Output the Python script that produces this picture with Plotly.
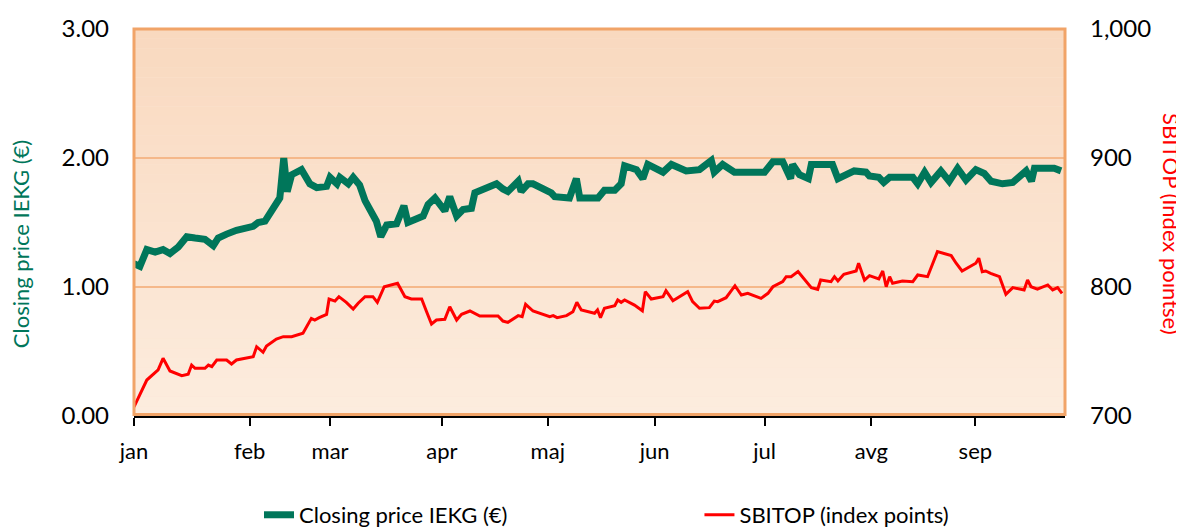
import plotly.graph_objects as go

# Trading-session index (0 = first session of January) and values
month_labels = ["jan", "feb", "mar", "apr", "maj", "jun", "jul", "avg", "sep"]
month_start_session = [0, 23.5, 39.8, 62.5, 84, 105.7, 128, 149.7, 170.8]

price_session = [0, 1.2, 2.6, 4.3, 5.9, 7.3, 9.0, 10.7, 12.4, 14.4, 16.1, 17.1, 18.8, 20.8,
                 24.2, 25.2, 26.6, 28.6, 29.6, 30.4, 31.1, 32.0, 34.0, 35.7, 37.1,
                 39.1, 39.8, 41.2, 41.8, 43.5, 44.5, 45.8, 46.9, 49.2, 50.1, 51.3, 53.3,
                 54.8, 55.6, 58.7, 59.7, 61.1, 63.1, 64.1, 65.5, 66.8, 68.5, 69.2, 73.6,
                 74.9, 75.9, 78.0, 78.6, 80.0, 81.0, 84.7, 85.4, 88.4, 89.8, 90.5, 94.2,
                 95.5, 97.6, 98.9, 99.6, 102.0, 103.3, 104.3, 107.4, 109.1, 112.1,
                 114.8, 117.2, 117.8, 119.5, 121.9, 128.0, 129.7, 131.7, 133.3, 133.7,
                 135.1, 136.9, 137.5, 141.8, 142.9, 146.2, 148.6, 149.3, 151.2, 152.2,
                 153.4, 158.1, 159.1, 160.5, 161.8, 163.8, 165.5, 167.2, 168.9, 170.9,
                 172.6, 174.0, 176.3, 178.4, 181.1, 182.2, 182.8, 186.8, 188.2]
price_eur = [1.18, 1.16, 1.29, 1.27, 1.29, 1.26, 1.31, 1.39, 1.38, 1.37, 1.32, 1.38, 1.41, 1.44,
             1.47, 1.50, 1.51, 1.62, 1.69, 2.00, 1.74, 1.87, 1.91, 1.80, 1.77,
             1.78, 1.85, 1.80, 1.85, 1.80, 1.85, 1.79, 1.67, 1.51, 1.39, 1.48, 1.49,
             1.63, 1.50, 1.55, 1.64, 1.69, 1.59, 1.70, 1.55, 1.60, 1.61, 1.73, 1.80,
             1.76, 1.74, 1.82, 1.74, 1.80, 1.80, 1.73, 1.70, 1.69, 1.84, 1.69, 1.69,
             1.75, 1.75, 1.80, 1.94, 1.91, 1.84, 1.95, 1.89, 1.95, 1.90,
             1.91, 1.98, 1.89, 1.95, 1.89, 1.89, 1.97, 1.97, 1.84, 1.95,
             1.87, 1.84, 1.95, 1.95, 1.84, 1.90, 1.89, 1.86, 1.85, 1.81,
             1.85, 1.85, 1.80, 1.89, 1.81, 1.90, 1.82, 1.92, 1.83, 1.91,
             1.88, 1.82, 1.80, 1.81, 1.90, 1.82, 1.92, 1.92, 1.90]

sbitop_session = [0, 2.6, 4.9, 5.9, 7.3, 9.7, 11.0, 11.7, 12.4, 14.4, 15.1, 15.8, 16.8, 18.8,
                  19.8, 20.8, 24.2, 24.9, 26.2, 26.9, 28.9, 30.3, 32.0, 34.3, 36.0, 36.7, 37.6,
                  39.1, 39.6, 40.8, 41.6, 43.1, 44.5, 45.5, 46.9, 48.5, 49.4, 50.8, 53.5, 55.0,
                  56.3, 58.4, 59.4, 60.4, 61.4, 63.1, 64.1, 65.5, 66.5, 68.2, 70.2, 73.9, 74.9,
                  75.9, 78.0, 78.8, 79.5, 81.0, 84.4, 85.1, 85.9, 87.8, 89.1, 89.9, 90.8, 93.5,
                  94.1, 94.7, 95.5, 97.6, 98.2, 98.9, 99.6, 101.6, 103.2, 103.8, 105.0, 107.4,
                  108.0, 109.4, 112.4, 113.4, 114.8, 116.8, 117.8, 118.5, 120.2, 122.0, 123.3,
                  124.6, 127.3, 128.7, 129.7, 131.7, 132.4, 133.4, 134.8, 137.5, 138.8, 139.4,
                  141.5, 142.2, 142.9, 144.1, 146.6, 147.1, 148.3, 149.3, 151.2, 152.0, 152.7,
                  153.4, 154.0, 156.0, 158.1, 159.1, 161.1, 162.1, 163.1, 165.9, 166.9, 168.1,
                  169.6, 170.9, 171.5, 172.2, 172.9, 173.9, 175.7, 177.0, 178.4, 180.7, 181.4,
                  182.1, 183.4, 185.5, 186.5, 187.5, 188.4]
sbitop_points = [707, 727.9, 735.7, 744.7, 734.9, 731.2, 732.3, 739.5, 737, 737, 739.5, 738.2,
                 743.4, 743.4, 740.3, 743.4, 746, 753.7, 749.4, 754.3, 759.7, 761.5, 761.5,
                 764.1, 775.7, 774.4, 776.2,
                 778.8, 790.7, 789.1, 792.5, 788.1, 782.9, 787.4, 792.5, 792.5, 788.1, 800.2,
                 802.9, 792.5, 790.7, 790.7, 780.8, 771.3, 774.4, 775, 784.7, 774.4, 778.8,
                 781.4, 777.5, 777.5, 773.6, 772.6, 777.8, 777, 786.6, 781.4, 777, 777.8,
                 776.2, 777.8, 780.8, 788.1, 782.2, 779.6, 782.2, 776.2, 783.5, 785.5, 789.9,
                 788.1, 789.9, 786, 781.6, 796.4, 790.7, 792.5, 797.1, 789.4, 796.4,
                 788.6, 783.5, 784, 789.1, 788.6, 791.7, 801, 793.8, 795.1, 791.2, 795.1,
                 800.2, 804.1, 808, 808, 811.9, 799.5, 798.2, 805.4, 804.1, 808, 804.7,
                 809.8, 812.4, 818.4, 805.4, 808.8, 806.2, 812.4, 800.2, 808, 802.9, 804.7,
                 804.1, 809.3, 808, 818.4, 827.4, 824.3, 818.4, 812.4, 815.7, 818.4, 822.3,
                 811.9, 812.4, 810.6, 808, 794.3, 799.5, 797.7, 805.4, 800.2, 798.4, 801.6,
                 797.7, 799.5, 795.1]

left_ticks = [0, 1, 2, 3]
right_ticks = [700, 800, 900, 1000]

GREEN = "#00765A"
RED = "#FF0000"
FONT = "Lato, 'Liberation Sans', sans-serif"

fig = go.Figure()
fig.add_trace(go.Scatter(x=price_session, y=price_eur, mode="lines",
                         name="Closing price IEKG (€)", legend="legend",
                         line=dict(color=GREEN, width=7), yaxis="y"))
fig.add_trace(go.Scatter(x=sbitop_session, y=sbitop_points, mode="lines",
                         name="SBITOP (index points)", legend="legend2",
                         line=dict(color=RED, width=3), yaxis="y2"))

# vertical gradient background of the plot area
top = (249, 217, 191)
bot = (252, 236, 222)
n = 40
shapes = []
for i in range(n):
    t = i / (n - 1)
    c = tuple(round(top[k] + (bot[k] - top[k]) * t) for k in range(3))
    shapes.append(dict(type="rect", xref="x domain", yref="y domain",
                       x0=0, x1=1, y0=1 - (i + 1) / n, y1=1 - i / n,
                       fillcolor=f"rgb{c}", line=dict(width=0), layer="below"))
shapes.append(dict(type="rect", xref="x domain", yref="y domain", x0=0, x1=1, y0=0.004, y1=1,
                   line=dict(color="rgb(241,164,104)", width=3), layer="above"))
fig.update_layout(shapes=shapes)

legend_common = dict(orientation="h", xref="container", yref="container",
                     xanchor="left", y=0.038, yanchor="middle",
                     font=dict(size=22), bgcolor="rgba(0,0,0,0)")

fig.update_layout(
    width=1184, height=527,
    margin=dict(l=126, r=127, t=21, b=119, autoexpand=False),
    paper_bgcolor="white",
    plot_bgcolor="rgb(251,228,210)",
    font=dict(family=FONT, size=23, color="black"),
    showlegend=True,
    legend=dict(x=0.212, **legend_common),
    legend2=dict(x=0.584, **legend_common),
    xaxis=dict(range=[0, 189], tickvals=month_start_session, ticktext=month_labels,
               ticks="outside", ticklen=8, tickwidth=2, tickcolor="black",
               showline=True, linecolor="black", linewidth=2, showgrid=False,
               zeroline=False, ticklabelstandoff=7, tickfont=dict(size=22),
               automargin=False),
    yaxis=dict(range=[0, 3], tickvals=left_ticks, tickformat=".2f",
               showgrid=True, gridcolor="rgb(245,184,138)", gridwidth=1.5,
               zeroline=False, showline=False, ticks="", ticklabelstandoff=24,
               tickfont=dict(size=24), automargin=False),
    yaxis2=dict(range=[700, 1000], tickvals=right_ticks, tickformat=",d",
                overlaying="y", side="right", showgrid=False, zeroline=False,
                showline=False, ticks="", ticklabelstandoff=24, tickfont=dict(size=24),
                automargin=False),
    annotations=[
        dict(text="Closing price IEKG (€)", xref="paper", yref="paper",
             x=-0.1224, y=0.444, textangle=-90, showarrow=False,
             font=dict(color=GREEN, size=22), xanchor="center", yanchor="middle"),
        dict(text="SBITOP (Index pointse)", xref="paper", yref="paper",
             x=1.115, y=0.496, textangle=90, showarrow=False,
             font=dict(color=RED, size=22), xanchor="center", yanchor="middle"),
    ],
)

fig.write_html("out.html")
